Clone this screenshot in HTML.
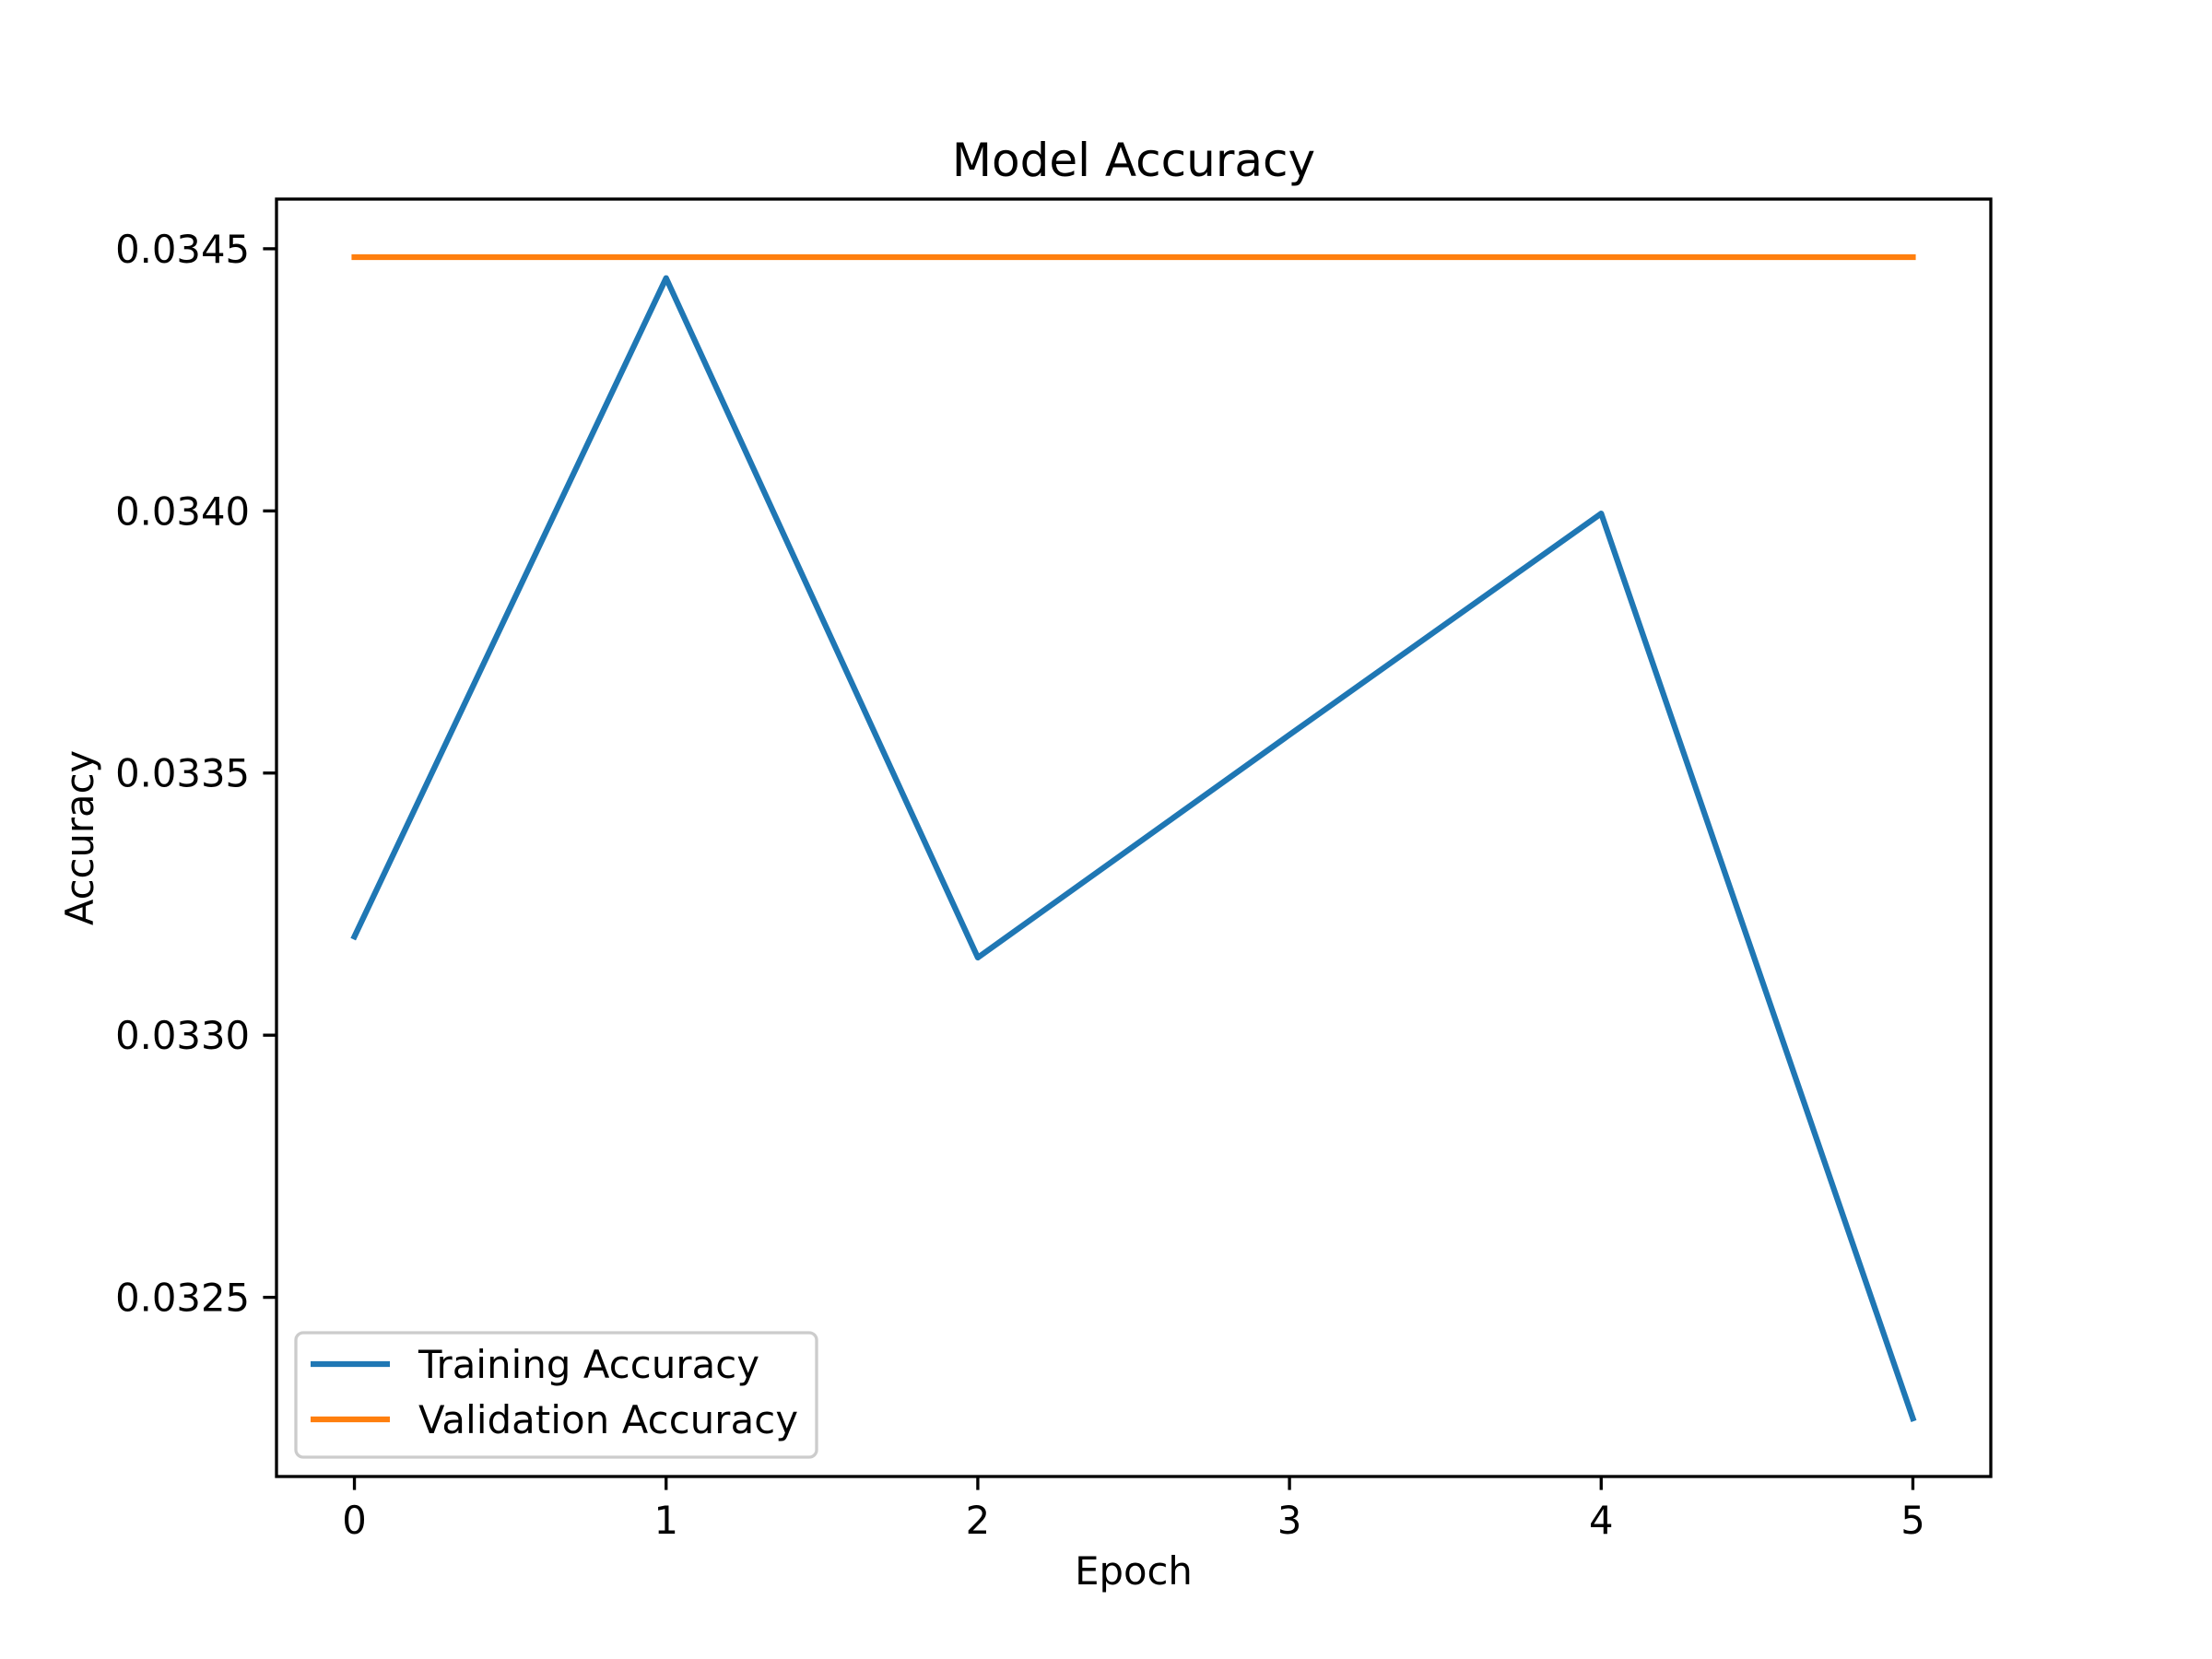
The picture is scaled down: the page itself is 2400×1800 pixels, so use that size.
<!DOCTYPE html>
<html><head><meta charset="utf-8"><style>
html,body{margin:0;padding:0;background:#fff;}
svg{display:block;font-family:"DejaVu Sans","Liberation Sans",sans-serif;}
</style></head><body>
<svg id="chart" width="2400" height="1800" viewBox="0 0 2400 1800">
<rect width="2400" height="1800" fill="#fff"/>
<g id="plot"></g>
</svg>
<script>
const epochs = [0, 1, 2, 3, 4, 5];
const trainAcc = [0.033188, 0.034444, 0.033148, 0.033573, 0.033995, 0.032269];
const valAcc = [0.034484, 0.034484, 0.034484, 0.034484, 0.034484, 0.034484];
const xTicks = [0, 1, 2, 3, 4, 5];
const yTicks = [0.0325, 0.0330, 0.0335, 0.0340, 0.0345];
const yTickLabels = ["0.0325", "0.0330", "0.0335", "0.0340", "0.0345"];

const L = 300, R = 2160, T = 216, B = 1602;
const ns = "http://www.w3.org/2000/svg";
const g = document.getElementById('plot');
const allY = trainAcc.concat(valAcc);
const ymin0 = Math.min(...allY), ymax0 = Math.max(...allY);
const ypad = (ymax0 - ymin0) * 0.05;
const ymin = ymin0 - ypad, ymax = ymax0 + ypad;
const xmin0 = Math.min(...epochs), xmax0 = Math.max(...epochs);
const xpad = (xmax0 - xmin0) * 0.05;
const xmin = xmin0 - xpad, xmax = xmax0 + xpad;
const sx = v => L + (v - xmin) / (xmax - xmin) * (R - L);
const sy = v => B - (v - ymin) / (ymax - ymin) * (B - T);

function mk(tag, attrs, parent) {
  const e = document.createElementNS(ns, tag);
  for (const k in attrs) e.setAttribute(k, attrs[k]);
  (parent || g).appendChild(e);
  return e;
}
function line(pts, color, name) {
  const p = mk('polyline', {points: pts.map(q => q.join(',')).join(' '), fill: 'none', stroke: color, 'stroke-width': 6.25, 'stroke-linecap': 'square', 'stroke-linejoin': 'round'});
  
  
}
line(epochs.map((e, i) => [sx(e), sy(trainAcc[i])]), '#1f77b4', 'training-accuracy-line');
line(epochs.map((e, i) => [sx(e), sy(valAcc[i])]), '#ff7f0e', 'validation-accuracy-line');

const frame = mk('rect', {x: L, y: T, width: R - L, height: B - T, fill: 'none', stroke: '#000', 'stroke-width': 3.33});



xTicks.forEach(t => {
  const x = sx(t);
  const tk = mk('line', {x1: x, x2: x, y1: B, y2: B + 14.6, stroke: '#000', 'stroke-width': 3.33});
  
  
  const tx = mk('text', {x: x, y: B + 62, 'font-size': 41.7, 'text-anchor': 'middle', fill: '#000'});
  tx.textContent = String(t);
  
  
});
yTicks.forEach((t, i) => {
  const y = sy(t);
  const tk = mk('line', {x1: L - 14.6, x2: L, y1: y, y2: y, stroke: '#000', 'stroke-width': 3.33});
  
  
  const tx = mk('text', {x: L - 29, y: y + 15, 'font-size': 41.7, 'text-anchor': 'end', fill: '#000'});
  tx.textContent = yTickLabels[i];
  
  
});

const title = mk('text', {x: (L + R) / 2, y: 191, 'font-size': 50, 'text-anchor': 'middle', fill: '#000'});
title.textContent = 'Model Accuracy';


const xl = mk('text', {x: (L + R) / 2, y: 1719, 'font-size': 41.7, 'text-anchor': 'middle', fill: '#000'});
xl.textContent = 'Epoch';


const yl = mk('text', {x: 0, y: 0, 'font-size': 41.7, 'text-anchor': 'middle', fill: '#000', transform: `translate(101,${(T + B) / 2}) rotate(-90)`});
yl.textContent = 'Accuracy';



const lg = mk('g', {});


mk('rect', {x: 324, y: 1463, width: 565, height: 135, rx: 8, fill: '#fff', 'fill-opacity': 0.8, stroke: '#ccc', 'stroke-width': 3.33}, lg);
lg.setAttribute('transform', 'translate(-3,-17)');
[['Training Accuracy', '#1f77b4', 1497], ['Validation Accuracy', '#ff7f0e', 1557]].forEach(([lab, c, y]) => {
  const e = mk('g', {}, lg);
  
  
  mk('line', {x1: 340, x2: 426, y1: y, y2: y, stroke: c, 'stroke-width': 6.25}, e);
  const t = mk('text', {x: 457, y: y + 15, 'font-size': 41.7, fill: '#000', textLength: lab.length > 17 ? 412 : 370}, e);
  t.textContent = lab;
});
</script>
</body></html>
